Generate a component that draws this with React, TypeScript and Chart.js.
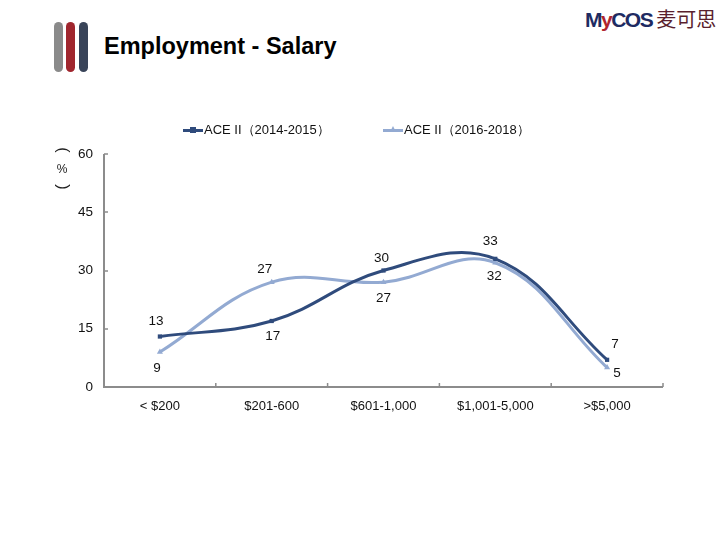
import React, { useEffect, useRef } from "react";
import { Chart, registerables } from "chart.js";

Chart.register(...registerables);

const categories = ["< $200", "$201-600", "$601-1,000", "$1,001-5,000", ">$5,000"];
const series1Name = "ACE II（2014-2015）";
const series2Name = "ACE II（2016-2018）";
const series1 = [13, 17, 30, 33, 7];
const series2 = [9, 27, 27, 32, 5];
const yTicks = [0, 15, 30, 45, 60];

const DARK = "#2F4B7C";
const LIGHT = "#93AAD2";
const AXIS = "#8C8C8C";
const FONT = "'Liberation Sans', Arial, sans-serif";

// label offsets (dx, dy) per point
const offs1 = [[-4, -15], [1, 15], [-2, -12], [-5, -18], [8, -16]];
const offs2 = [[-3, 16], [-7, -13], [0, 16], [-1, 14], [10, 6]];

const labelPlugin = {
  id: "pointLabels",
  afterDatasetsDraw(chart: any) {
    const ctx = chart.ctx;
    ctx.save();
    ctx.font = `13.5px ${FONT}`;
    ctx.fillStyle = "#111";
    ctx.textAlign = "center";
    ctx.textBaseline = "middle";
    const allOffs = [offs1, offs2];
    chart.data.datasets.forEach((ds: any, di: number) => {
      const meta = chart.getDatasetMeta(di);
      meta.data.forEach((pt: any, i: number) => {
        const o = allOffs[di][i];
        ctx.fillText(String(ds.data[i]), pt.x + o[0], pt.y + o[1]);
      });
    });
    ctx.restore();
  },
};

const ticksPlugin = {
  id: "innerTicks",
  afterDraw(chart: any) {
    const ctx = chart.ctx;
    const y = chart.scales.y;
    const a = chart.chartArea;
    ctx.save();
    ctx.strokeStyle = AXIS;
    ctx.lineWidth = 2;
    ctx.beginPath();
    ctx.moveTo(a.left, a.top);
    ctx.lineTo(a.left, a.bottom);
    ctx.lineTo(a.right, a.bottom);
    ctx.stroke();
    ctx.lineWidth = 1.5;
    ctx.beginPath();
    yTicks.forEach((v) => {
      const py = Math.round(y.getPixelForValue(v));
      ctx.moveTo(a.left, py);
      ctx.lineTo(a.left + 4, py);
    });
    for (let i = 0; i <= categories.length; i++) {
      const px = a.left + ((a.right - a.left) * i) / categories.length;
      ctx.moveTo(px, a.bottom);
      ctx.lineTo(px, a.bottom - 4);
    }
    ctx.stroke();
    ctx.restore();
  },
};

function ChartBox() {
  const ref = useRef<HTMLCanvasElement | null>(null);
  useEffect(() => {
    if (!ref.current) return;
    const chart = new Chart(ref.current, {
      type: "line",
      data: {
        labels: categories,
        datasets: [
          {
            label: series1Name,
            data: series1,
            borderColor: DARK,
            backgroundColor: DARK,
            borderWidth: 3,
            tension: 0.4,
            pointStyle: "rect",
            pointRadius: 3,
            pointBorderWidth: 0,
          },
          {
            label: series2Name,
            data: series2,
            borderColor: LIGHT,
            backgroundColor: LIGHT,
            borderWidth: 3,
            tension: 0.4,
            pointStyle: "triangle",
            pointRadius: 3.5,
            pointBorderWidth: 0,
          },
        ],
      },
      options: {
        animation: false,
        responsive: false,
        maintainAspectRatio: false,
        layout: { padding: { left: 54, right: 57, top: 154, bottom: 0 } },
        plugins: {
          legend: { display: false },
          tooltip: { enabled: false },
        },
        scales: {
          x: {
            offset: true,
            grid: { display: false, drawTicks: false },
            border: { display: false },
            ticks: { color: "#111", font: { family: FONT, size: 13 }, padding: 12 },
            afterFit: (s: any) => {
              s.height = 153;
            },
          },
          y: {
            min: 0,
            max: 60,
            afterBuildTicks: (s: any) => {
              s.ticks = yTicks.map((v) => ({ value: v }));
            },
            grid: { display: false, drawTicks: false },
            border: { display: false },
            ticks: { color: "#111", font: { family: FONT, size: 13.5 }, padding: 11 },
            afterFit: (s: any) => {
              s.width = 50;
            },
          },
        },
      },
      plugins: [ticksPlugin, labelPlugin],
    } as any);
    return () => chart.destroy();
  }, []);
  return <canvas ref={ref} width={720} height={540} style={{ position: "absolute", left: 0, top: 0 }} />;
}

function LegendItem({ x, color, marker, text }: { x: number; color: string; marker: string; text: string }) {
  return (
    <div style={{ position: "absolute", left: x, top: 122, height: 16, display: "flex", alignItems: "center", font: `13px ${FONT}`, color: "#111", whiteSpace: "nowrap" }}>
      <div style={{ position: "relative", width: 20, height: 16 }}>
        <div style={{ position: "absolute", left: 0, top: 6.5, width: 20, height: 3, background: color }} />
        {marker === "rect" ? (
          <div style={{ position: "absolute", left: 7, top: 5, width: 6, height: 6, background: color }} />
        ) : (
          <div style={{ position: "absolute", left: 7, top: 4, width: 0, height: 0, borderLeft: "3px solid transparent", borderRight: "3px solid transparent", borderBottom: `6px solid ${color}` }} />
        )}
      </div>
      <span style={{ marginLeft: 1 }}>{text}</span>
    </div>
  );
}

export default function App() {
  const yTitleChar = (ch: string, cy: number, font: string, rotate: boolean) => (
    <div style={{ position: "absolute", left: 52, top: cy - 10, width: 20, height: 20, lineHeight: "20px", textAlign: "center", font, color: "#222", transform: rotate ? "rotate(90deg)" : undefined, transformOrigin: "50% 50%" }}>{ch}</div>
  );
  return (
    <div style={{ position: "fixed", left: 0, top: 0, width: 720, height: 540, background: "#fff", overflow: "hidden" }}>
      {/* decorative bars */}
      <div style={{ position: "absolute", left: 54, top: 22, width: 9, height: 50, borderRadius: 5, background: "#8A8A8A" }} />
      <div style={{ position: "absolute", left: 66, top: 22, width: 9, height: 50, borderRadius: 5, background: "#A0262E" }} />
      <div style={{ position: "absolute", left: 79, top: 22, width: 9, height: 50, borderRadius: 5, background: "#394459" }} />
      <div style={{ position: "absolute", left: 104, top: 33, font: `bold 23.5px ${FONT}`, color: "#000", whiteSpace: "nowrap" }}>
        Employment - Salary
      </div>
      {/* logo */}
      <div style={{ position: "absolute", left: 585, top: 4, whiteSpace: "nowrap", display: "flex", alignItems: "baseline" }}>
        <span style={{ font: `900 21px ${FONT}`, color: "#1E2B62", letterSpacing: -1.5 }}>
          M<span style={{ color: "#B0252E" }}>y</span>COS
        </span>
        <span style={{ font: `20px 'Noto Sans CJK SC'`, color: "#5A1F2E", marginLeft: 4 }}>麦可思</span>
      </div>
      <ChartBox />
      <LegendItem x={183} color={DARK} marker="rect" text={series1Name} />
      <LegendItem x={383} color={LIGHT} marker="tri" text={series2Name} />
      {/* y axis title (vertical text) */}
      {yTitleChar("(", 150, `16px ${FONT}`, true)}
      {yTitleChar("%", 172, `12px ${FONT}`, false)}
      {yTitleChar(")", 187, `16px ${FONT}`, true)}
    </div>
  );
}
